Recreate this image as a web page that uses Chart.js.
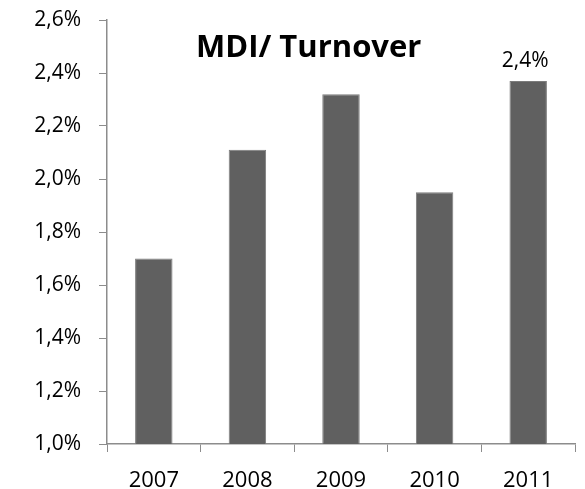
<!DOCTYPE html>
<html>
<head>
<meta charset="utf-8">
<script src="https://cdn.jsdelivr.net/npm/chart.js@4/dist/chart.umd.min.js"></script>
<style>
html,body{margin:0;padding:0;background:#fff;}
#wrap{width:585px;height:489px;position:relative;}
</style>
</head>
<body>
<div id="wrap"><canvas id="c" width="585" height="489"></canvas></div>
<script>
const categories = ['2007', '2008', '2009', '2010', '2011'];
const values = [1.70, 2.11, 2.32, 1.95, 2.37];
const labelShown = [null, null, null, null, '2,4%'];
const titleText = 'MDI/ Turnover';
const yTicks = [1.0, 1.2, 1.4, 1.6, 1.8, 2.0, 2.2, 2.4, 2.6];

const FONT = "'Open Sans', 'Liberation Sans', sans-serif";

const overlay = {
  id: 'overlay',
  afterDatasetsDraw(chart) {
    const ctx = chart.ctx;
    const meta = chart.getDatasetMeta(0);
    ctx.save();
    ctx.fillStyle = '#000';
    ctx.font = "21px " + FONT;
    ctx.textAlign = 'center';
    ctx.textBaseline = 'alphabetic';
    meta.data.forEach((bar, i) => {
      if (labelShown[i]) ctx.fillText(labelShown[i], bar.x - 3, bar.y - 14);
    });
    ctx.font = "bold 31px " + FONT;
    const a = chart.chartArea;
    ctx.fillText(titleText, a.left + (a.right - a.left) * 0.431, a.top + 37);
    ctx.restore();
  }
};

new Chart(document.getElementById('c'), {
  type: 'bar',
  data: {
    labels: categories,
    datasets: [{
      data: values,
      backgroundColor: '#606060',
      borderColor: '#7c7c7c',
      borderWidth: 1,
      barPercentage: 0.40,
      categoryPercentage: 1.0
    }]
  },
  options: {
    responsive: false,
    animation: false,
    layout: { padding: { top: 20, right: 10, left: 0, bottom: 0 } },
    plugins: { legend: { display: false }, tooltip: { enabled: false } },
    scales: {
      x: {
        offset: true,
        grid: { display: true, drawOnChartArea: false, drawTicks: true, tickLength: 8, color: '#8c8c8c', offset: true },
        border: { display: true, color: '#8c8c8c', width: 1.5 },
        ticks: { color: '#000', font: { size: 22, family: FONT }, padding: 16 },
        afterFit(s) { s.height = 45; s.paddingLeft = 0; s.paddingRight = 0; }
      },
      y: {
        min: 1.0, max: 2.6,
        afterBuildTicks(s) { s.ticks = yTicks.map(v => ({ value: v })); },
        grid: { display: true, drawOnChartArea: false, drawTicks: true, tickLength: 8, color: '#8c8c8c' },
        border: { display: true, color: '#8c8c8c', width: 1.5 },
        ticks: {
          color: '#000', font: { size: 21, family: FONT }, padding: 18,
          callback: v => v.toFixed(1).replace('.', ',') + '%'
        },
        afterFit(s) { s.width = 107; s.paddingTop = 0; s.paddingBottom = 0; }
      }
    }
  },
  plugins: [overlay]
});
</script>
</body>
</html>
